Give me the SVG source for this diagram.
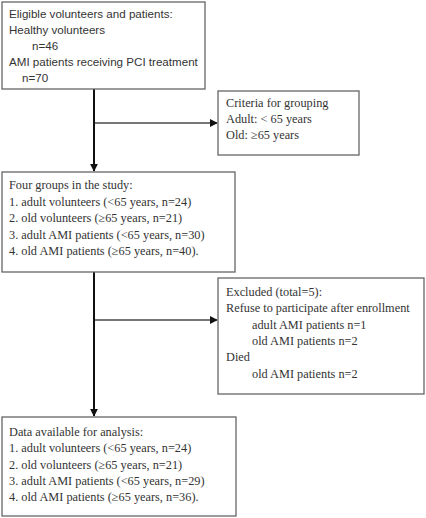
<svg xmlns="http://www.w3.org/2000/svg" width="426" height="518" viewBox="0 0 426 518">
<style>
.box{fill:#fff;stroke:#666;stroke-width:1.3}
.sans{font-family:"Liberation Sans",Arial,sans-serif;font-size:11.6px;fill:#333}
.serif{font-family:"Liberation Serif","Times New Roman",serif;font-size:12.3px;fill:#333}
.main{stroke:#111;stroke-width:2;fill:none}
.side{stroke:#777;stroke-width:2;fill:none}
</style>
<defs>
<marker id="ah" viewBox="0 0 10 10" refX="9" refY="5" markerWidth="4" markerHeight="4" orient="auto" markerUnits="strokeWidth">
<path d="M0,0 L10,5 L0,10 z" fill="#111"/>
</marker>
</defs>
<rect width="426" height="518" fill="#fff"/>
<g id="connectors">
<line class="main" x1="94" y1="89" x2="94" y2="171" marker-end="url(#ah)"/>
<line class="side" x1="95" y1="123" x2="217" y2="123" marker-end="url(#ah)"/>
<line class="main" x1="94" y1="272" x2="94" y2="416" marker-end="url(#ah)"/>
<line class="side" x1="95" y1="320" x2="217" y2="320" marker-end="url(#ah)"/>
</g>
<g id="eligible">
<rect class="box" x="2" y="2" width="203" height="87"/>
<text class="sans" x="9" y="18">Eligible volunteers and patients:</text>
<text class="sans" x="9" y="34">Healthy volunteers</text>
<text class="sans" x="32" y="50">n=46</text>
<text class="sans" x="9" y="66">AMI patients receiving PCI treatment</text>
<text class="sans" x="22" y="82">n=70</text>
</g>
<g id="criteria">
<rect class="box" x="218" y="91" width="141" height="64"/>
<text class="serif" x="226" y="107">Criteria for grouping</text>
<text class="serif" x="226" y="123">Adult: &lt; 65 years</text>
<text class="serif" x="226" y="139">Old: ≥65 years</text>
</g>
<g id="groups">
<rect class="box" x="2" y="172" width="233" height="100"/>
<text class="serif" x="9" y="189">Four groups in the study:</text>
<text class="serif" x="9" y="206">1. adult volunteers (&lt;65 years, n=24)</text>
<text class="serif" x="9" y="222">2. old volunteers (≥65 years, n=21)</text>
<text class="serif" x="9" y="239">3. adult AMI patients (&lt;65 years, n=30)</text>
<text class="serif" x="9" y="255">4. old AMI patients (≥65 years, n=40).</text>
</g>
<g id="excluded">
<rect class="box" x="218" y="278" width="206" height="116"/>
<text class="serif" x="226" y="296">Excluded (total=5):</text>
<text class="serif" x="226" y="312">Refuse to participate after enrollment</text>
<text class="serif" x="252" y="329">adult AMI patients n=1</text>
<text class="serif" x="252" y="345">old AMI patients n=2</text>
<text class="serif" x="226" y="361">Died</text>
<text class="serif" x="252" y="378">old AMI patients n=2</text>
</g>
<g id="analysis">
<rect class="box" x="2" y="417" width="234" height="99"/>
<text class="serif" x="9" y="436">Data available for analysis:</text>
<text class="serif" x="9" y="452">1. adult volunteers (&lt;65 years, n=24)</text>
<text class="serif" x="9" y="469">2. old volunteers (≥65 years, n=21)</text>
<text class="serif" x="9" y="485">3. adult AMI patients (&lt;65 years, n=29)</text>
<text class="serif" x="9" y="501">4. old AMI patients (≥65 years, n=36).</text>
</g>
</svg>
